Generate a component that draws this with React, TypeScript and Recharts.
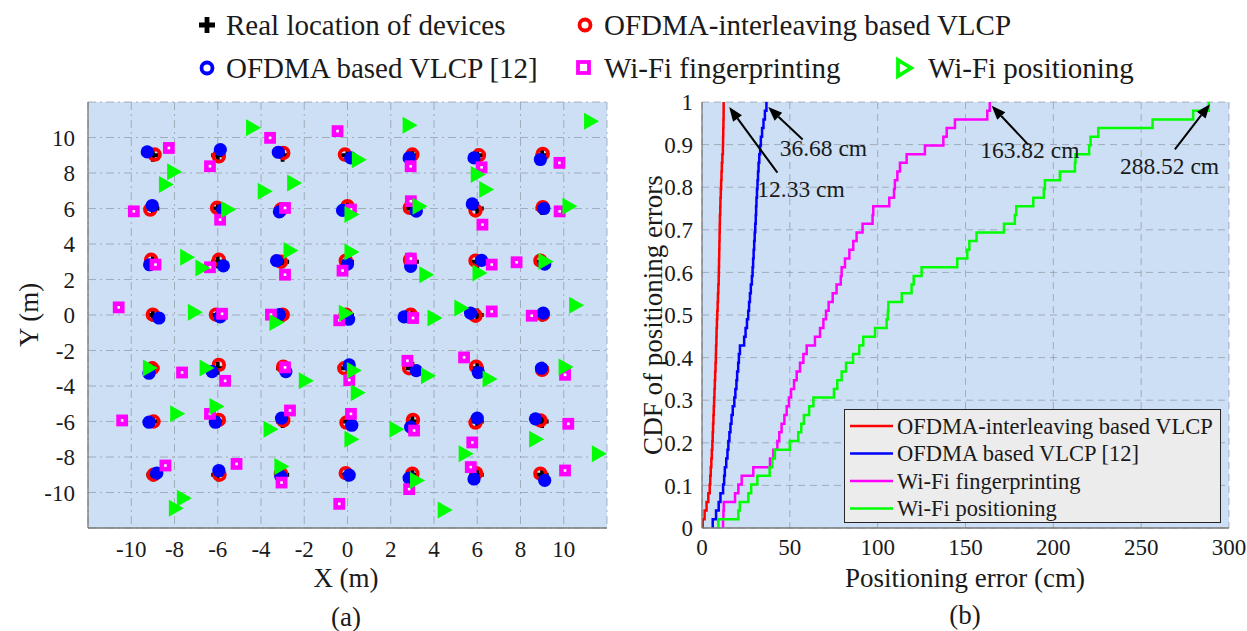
import React from 'react';
import {
  ScatterChart, Scatter, XAxis, YAxis, CartesianGrid,
  LineChart, Line, Legend, ReferenceLine,
} from 'recharts';

const SERIF = '"Liberation Serif", "Times New Roman", serif';

// ---------------- Panel (a): positions (m) ----------------
const deviceXs = [-9, -6, -3, 0, 3, 6, 9];
const deviceYs = [9, 6, 3, 0, -3, -6, -9];

const interleavingEst = [
  [-8.92, 9.04], [-5.95, 8.94], [-2.97, 9.13], [-0.12, 9.04], [3.0, 9.04], [6.08, 9.0], [9.03, 9.08],
  [-9.12, 5.94], [-6.03, 6.04], [-3.08, 5.94], [0.0, 6.13], [2.88, 6.04], [5.92, 5.89], [9.03, 6.08],
  [-9.08, 3.11], [-5.95, 3.11], [-3.08, 3.0], [-0.08, 3.06], [2.89, 3.11], [5.92, 3.06], [8.92, 3.06],
  [-9.0, 0.02], [-6.08, 0.02], [-3.0, 0.02], [-0.08, 0.02], [2.92, 0.02], [5.92, -0.04], [9.03, 0.02],
  [-9.03, -3.0], [-5.95, -2.81], [-2.97, -2.91], [-0.15, -3.0], [2.85, -3.0], [5.95, -2.91], [9.0, -3.09],
  [-8.97, -6.0], [-5.95, -5.91], [-2.97, -5.94], [-0.05, -6.06], [3.03, -5.91], [5.92, -6.06], [8.92, -5.94],
  [-8.97, -9.0], [-5.92, -9.0], [-3.08, -8.94], [-0.08, -8.91], [3.0, -8.94], [5.95, -8.91], [8.92, -8.94],
];

const ofdmaEst = [
  [-9.26, 9.19], [-5.88, 9.32], [-3.2, 9.17], [0.15, 8.85], [2.85, 8.85], [5.85, 8.85], [8.92, 8.76],
  [-9.03, 6.17], [-5.77, 5.94], [-3.15, 5.81], [-0.23, 5.89], [3.18, 5.85], [5.77, 6.26], [9.08, 6.0],
  [-9.15, 2.83], [-5.74, 2.77], [-3.28, 3.06], [0.0, 2.87], [2.92, 2.74], [6.2, 3.08], [9.12, 2.87],
  [-8.72, -0.17], [-5.89, -0.11], [-3.15, 0.02], [0.05, -0.24], [2.62, -0.11], [5.69, 0.11], [9.05, 0.11],
  [-9.18, -3.28], [-6.26, -3.19], [-2.85, -3.19], [0.08, -2.81], [3.18, -3.13], [6.05, -3.24], [8.97, -3.0],
  [-9.18, -6.04], [-6.11, -6.04], [-3.05, -5.81], [0.2, -6.21], [2.92, -6.32], [6.0, -5.81], [8.69, -5.85],
  [-8.82, -8.91], [-5.95, -8.76], [-3.08, -9.09], [0.08, -9.02], [2.85, -9.19], [5.85, -9.24], [9.12, -9.32],
];

const fingerprintEst = [
  [-8.26, 9.41], [-6.36, 8.38], [-3.58, 9.98], [-0.46, 10.36], [2.92, 8.38], [6.2, 8.32], [9.8, 8.57],
  [-9.88, 5.84], [-5.89, 5.37], [-2.89, 6.03], [0.16, 5.94], [2.93, 6.41], [6.24, 5.09], [9.81, 5.84],
  [-8.88, 2.84], [-6.36, 2.69], [-2.89, 2.27], [-0.23, 2.5], [2.93, 3.18], [6.67, 2.84], [7.82, 2.97],
  [-10.58, 0.43], [-5.8, 0.07], [-3.54, 0.02], [-0.38, -0.3], [3.03, -0.17], [6.67, 0.2], [8.52, -0.04],
  [-7.65, -3.24], [-5.66, -3.71], [-2.89, -2.95], [0.08, -3.67], [2.77, -2.58], [5.39, -2.39], [10.06, -3.37],
  [-10.42, -5.94], [-6.36, -5.57], [-2.66, -5.38], [0.16, -5.57], [3.08, -6.51], [5.77, -7.18], [10.21, -6.13],
  [-8.42, -8.48], [-5.13, -8.39], [-3.05, -9.44], [-0.38, -10.64], [2.85, -9.81], [5.7, -8.57], [10.06, -8.76],
];

const wifiEst = [
  [-4.39, 10.55], [-8.04, 8.07], [-8.42, 7.35], [-3.85, 6.97], [-2.49, 7.44], [-5.54, 5.94], [-2.66, 3.63],
  [-7.44, 3.25], [-6.73, 2.65], [0.5, 8.75], [0.16, 5.66], [0.16, 3.55], [-7.08, 0.15], [2.85, 10.69],
  [11.24, 10.92], [6.0, 7.91], [6.39, 7.07], [3.31, 6.13], [10.24, 6.13], [3.62, 2.27], [6.08, 2.37],
  [9.13, 3.02], [5.24, 0.39], [10.55, 0.55], [-3.31, -0.42], [-0.1, 0.1], [4.0, -0.17], [-9.16, -2.99],
  [-6.54, -2.99], [-1.95, -3.71], [0.27, -3.13], [0.45, -4.38], [3.7, -3.42], [6.55, -3.61], [10.06, -2.93],
  [-7.9, -5.57], [-6.08, -5.15], [-3.58, -6.43], [0.16, -7.0], [2.24, -6.43], [5.44, -7.82], [8.7, -7.0],
  [11.6, -7.82], [-7.59, -10.32], [-7.96, -10.89], [-3.08, -8.54], [3.19, -9.33], [4.47, -10.98],
];

const posTicks = [-10, -8, -6, -4, -2, 0, 2, 4, 6, 8, 10];

// ---------------- Panel (b): sorted positioning errors (cm) ----------------
const interleavingErr = [
  0.4, 1.5, 2.6, 3.6, 4.4, 4.7, 5.0, 5.3, 5.6, 5.9, 6.1, 6.3, 6.5, 6.7, 6.9, 7.1, 7.3, 7.5, 7.7, 7.9,
  8.0, 8.2, 8.3, 8.5, 8.7, 8.9, 9.1, 9.3, 9.5, 9.6, 9.7, 9.8, 9.9, 10.0, 10.1, 10.2, 10.4, 10.5, 10.7,
  10.9, 11.1, 11.3, 11.6, 11.9, 12.0, 12.1, 12.2, 12.3, 12.33,
];
const ofdmaErr = [
  6.1, 8.0, 9.5, 10.5, 12.0, 12.6, 13.0, 13.8, 14.5, 15.0, 15.6, 16.2, 16.8, 17.5, 18.4, 19.0, 19.6,
  20.0, 20.6, 21.0, 21.6, 24.0, 24.8, 25.6, 26.3, 26.8, 27.3, 27.8, 28.4, 28.8, 29.1, 29.4, 29.7, 30.0,
  30.3, 30.6, 30.8, 31.0, 31.3, 31.6, 31.9, 32.2, 32.6, 33.1, 33.5, 34.2, 35.0, 35.8, 36.68,
];
const fingerprintErr = [
  12.0, 12.2, 12.4, 18.8, 20.7, 22.6, 29.2, 38.7, 40.6, 42.9, 44.0, 45.3, 46.9, 48.2, 49.5, 50.7, 52.4,
  53.9, 55.8, 57.7, 59.6, 64.3, 67.2, 69.1, 70.6, 72.1, 74.4, 76.6, 79.0, 79.5, 81.4, 83.9, 86.1, 88.0,
  91.4, 97.1, 97.5, 106.6, 109.3, 109.8, 111.2, 112.7, 116.5, 126.9, 137.4, 139.3, 144.0, 162.4, 163.82,
];
const wifiErr = [
  9.3, 20.7, 21.5, 26.4, 28.0, 31.5, 38.5, 40.0, 41.5, 50.0, 54.8, 56.5, 58.0, 61.0, 63.4, 75.1, 77.0,
  79.5, 82.0, 86.0, 89.5, 91.8, 98.5, 105.1, 105.8, 106.1, 113.7, 119.3, 120.5, 125.0, 145.3, 151.0,
  152.2, 156.3, 171.9, 178.1, 178.9, 188.6, 194.6, 195.2, 203.7, 212.3, 212.6, 220.4, 221.2, 225.6,
  256.5, 279.6, 288.52,
];
const errTicks = [0, 50, 100, 150, 200, 250, 300];
const cdfTicks = [0, 0.1, 0.2, 0.3, 0.4, 0.5, 0.6, 0.7, 0.8, 0.9, 1];

const seriesNames = [
  'OFDMA-interleaving based VLCP',
  'OFDMA based VLCP [12]',
  'Wi-Fi fingerprinting',
  'Wi-Fi positioning',
];
const seriesColors = ['#ff0000', '#0000ff', '#ff00ff', '#00ff00'];

const annotations = [
  { text: '12.33 cm', tail: [42.9, 0.834], tip: [15.5, 0.988], dx: -20, dy: 24 },
  { text: '36.68 cm', tail: [57.3, 0.912], tip: [37.7, 0.988], dx: -23, dy: 17 },
  { text: '163.82 cm', tail: [185.7, 0.9], tip: [164.9, 0.991], dx: -48, dy: 13 },
  { text: '288.52 cm', tail: [269.2, 0.889], tip: [289.1, 0.995], dx: -55, dy: 25 },
];

// ---------------- helpers ----------------
const toPoints = (arr: number[][]) => arr.map(([x, y]) => ({ x, y }));
const devicePoints = deviceYs.flatMap((y) => deviceXs.map((x) => ({ x, y })));
const cdfPoints = (errs: number[]) => [
  { x: errs[0], y: 0 },
  ...errs.map((e, i) => ({ x: e, y: (i + 1) / errs.length })),
];

const BG = '#cddff4';
const GRID = '#8d97a3';
const BOX = '#7a7a7a';
const TXT = '#1a1a1a';

const PlusShape = (p: any) => (
  <path d={`M${p.cx - 6.5},${p.cy}H${p.cx + 6.5}M${p.cx},${p.cy - 6.5}V${p.cy + 6.5}`} stroke="#000" strokeWidth={3.8} />
);
const RedShape = (p: any) => (
  <circle cx={p.cx} cy={p.cy} r={5.3} fill="none" stroke="#ff0000" strokeWidth={3.8} />
);
const BlueShape = (p: any) => <circle cx={p.cx} cy={p.cy} r={6.6} fill="#0000ff" />;
const PinkShape = (p: any) => (
  <rect x={p.cx - 3.6} y={p.cy - 3.6} width={7.2} height={7.2} fill="#ffffff" stroke="#ff00ff" strokeWidth={4.6} />
);
const GreenShape = (p: any) => (
  <polygon points={`${p.cx - 6.5},${p.cy - 8.5} ${p.cx + 8.5},${p.cy} ${p.cx - 6.5},${p.cy + 8.5}`} fill="#00ff00" />
);

const ArrowShape = (p: any) => {
  const { x1, y1, x2, y2, text, dx, dy } = p;
  const ang = Math.atan2(y2 - y1, x2 - x1);
  const L = 14;
  const W = 5.5;
  const bx = x2 - L * Math.cos(ang);
  const by = y2 - L * Math.sin(ang);
  const px = -Math.sin(ang) * W;
  const py = Math.cos(ang) * W;
  return (
    <g>
      <line x1={x1} y1={y1} x2={bx} y2={by} stroke="#000" strokeWidth={2} />
      <polygon points={`${x2},${y2} ${bx + px},${by + py} ${bx - px},${by - py}`} fill="#000" />
      <text x={x1 + dx} y={y1 + dy} fontFamily={SERIF} fontSize={23.5} fill={TXT}>{text}</text>
    </g>
  );
};

const CdfLegend = () => (
  <svg width={377} height={114} style={{ display: 'block' }}>
    <rect x={0.5} y={0.5} width={376} height={113} fill="#ececec" stroke="#262626" strokeWidth={1} />
    {seriesNames.map((n, i) => {
      const cy = 17 + i * 27.5;
      return (
        <g key={n}>
          <line x1={6} x2={49} y1={cy} y2={cy} stroke={seriesColors[i]} strokeWidth={2.5} />
          <text x={53} y={cy + 7.5} fontFamily={SERIF} fontSize={22.5} fill={TXT}>{n}</text>
        </g>
      );
    })}
  </svg>
);

const tickStyle = { fill: TXT, fontSize: 23, fontFamily: SERIF };
const boxLine = { stroke: BOX, strokeWidth: 1.3 };

export default function App() {
  return (
    <div style={{ position: 'absolute', left: 0, top: 0, width: 1247, height: 631, background: '#fff', overflow: 'hidden' }}>
      {/* Panel (a) */}
      <div style={{ position: 'absolute', left: 0, top: 0 }}>
        <ScatterChart width={620} height={631} margin={{ top: 102, right: 13, bottom: 53, left: 0 }}>
          <CartesianGrid fill={BG} stroke={GRID} strokeOpacity={0.7} strokeDasharray="8 4 2 4" />
          <XAxis type="number" dataKey="x" domain={[-12, 12]} ticks={posTicks} interval={0} allowDataOverflow
            height={50} tickLine={false} tickMargin={7} axisLine={boxLine} tick={tickStyle} />
          <YAxis type="number" dataKey="y" domain={[-12, 12]} ticks={posTicks} interval={0} allowDataOverflow
            width={88} tickLine={false} tickMargin={7} axisLine={boxLine} tick={tickStyle} />
          <XAxis xAxisId="top" orientation="top" type="number" domain={[-12, 12]} ticks={posTicks} interval={0}
            allowDataOverflow height={0} mirror tick={false} tickSize={5} axisLine={boxLine} tickLine={boxLine} />
          <YAxis yAxisId="right" orientation="right" type="number" domain={[-12, 12]} ticks={posTicks} interval={0}
            allowDataOverflow width={0} mirror tick={false} tickSize={5} axisLine={boxLine} tickLine={boxLine} />
          <Scatter data={devicePoints} shape={PlusShape} isAnimationActive={false} />
          <Scatter data={toPoints(interleavingEst)} shape={RedShape} isAnimationActive={false} />
          <Scatter data={toPoints(ofdmaEst)} shape={BlueShape} isAnimationActive={false} />
          <Scatter data={toPoints(fingerprintEst)} shape={PinkShape} isAnimationActive={false} />
          <Scatter data={toPoints(wifiEst)} shape={GreenShape} isAnimationActive={false} />
        </ScatterChart>
      </div>

      {/* Panel (b) */}
      <div style={{ position: 'absolute', left: 620, top: 0 }}>
        <LineChart width={627} height={631} margin={{ top: 102, right: 18, bottom: 53, left: 0 }}>
          <CartesianGrid fill={BG} stroke={GRID} strokeOpacity={0.7} strokeDasharray="7 5" />
          <XAxis type="number" dataKey="x" domain={[0, 300]} ticks={errTicks} interval={0} allowDataOverflow
            height={50} tickLine={false} tickMargin={5} axisLine={boxLine} tick={tickStyle} />
          <YAxis type="number" dataKey="y" domain={[0, 1]} ticks={cdfTicks} interval={0} allowDataOverflow
            width={82} tickLine={false} tickMargin={3} axisLine={boxLine} tick={tickStyle} />
          <XAxis xAxisId="top" orientation="top" type="number" domain={[0, 300]} ticks={errTicks} interval={0}
            allowDataOverflow height={0} mirror tick={false} tickSize={5} axisLine={boxLine} tickLine={boxLine} />
          <YAxis yAxisId="right" orientation="right" type="number" domain={[0, 1]} ticks={cdfTicks} interval={0}
            allowDataOverflow width={0} mirror tick={false} tickSize={5} axisLine={boxLine} tickLine={boxLine} />
          <Line data={cdfPoints(interleavingErr)} dataKey="y" name={seriesNames[0]} type="stepAfter" stroke={seriesColors[0]} strokeWidth={2.5} dot={false} isAnimationActive={false} />
          <Line data={cdfPoints(ofdmaErr)} dataKey="y" name={seriesNames[1]} type="stepAfter" stroke={seriesColors[1]} strokeWidth={2.5} dot={false} isAnimationActive={false} />
          <Line data={cdfPoints(fingerprintErr)} dataKey="y" name={seriesNames[2]} type="stepAfter" stroke={seriesColors[2]} strokeWidth={2.5} dot={false} isAnimationActive={false} />
          <Line data={cdfPoints(wifiErr)} dataKey="y" name={seriesNames[3]} type="stepAfter" stroke={seriesColors[3]} strokeWidth={2.5} dot={false} isAnimationActive={false} />
          {annotations.map((a) => (
            <ReferenceLine key={a.text} ifOverflow="visible"
              segment={[{ x: a.tail[0], y: a.tail[1] }, { x: a.tip[0], y: a.tip[1] }]}
              shape={(p: any) => <ArrowShape {...p} text={a.text} dx={a.dx} dy={a.dy} />} />
          ))}
          <Legend layout="vertical" align="center" verticalAlign="middle"
            wrapperStyle={{ left: 224, top: 409, width: 377, height: 114, margin: 0, padding: 0 }}
            content={() => <CdfLegend />} />
        </LineChart>
      </div>

      {/* Shared legend, axis titles and panel captions */}
      <svg width={1247} height={631} style={{ position: 'absolute', left: 0, top: 0, pointerEvents: 'none' }}>
        <g fontFamily={SERIF} fontSize={29} fill={TXT}>
          <path d="M199,25H215M207,17V33" stroke="#000" strokeWidth={4.8} />
          <text x={226} y={35}>Real location of devices</text>
          <circle cx={585} cy={25} r={5.5} fill="none" stroke="#ff0000" strokeWidth={3.8} />
          <text x={604} y={35}>{seriesNames[0]}</text>
          <circle cx={207} cy={68} r={5.5} fill="none" stroke="#0000ff" strokeWidth={3.8} />
          <text x={226} y={78}>{seriesNames[1]}</text>
          <rect x={578} y={62} width={11} height={11} fill="none" stroke="#ff00ff" strokeWidth={3.8} />
          <text x={604} y={78}>{seriesNames[2]}</text>
          <polygon points="898,60 911,68 898,76" fill="none" stroke="#00ff00" strokeWidth={3.8} strokeLinejoin="miter" />
          <text x={928} y={78}>{seriesNames[3]}</text>
        </g>
        <g fontFamily={SERIF} fontSize={27} fill={TXT} textAnchor="middle">
          <text x={29} y={315} dominantBaseline="central" transform="rotate(-90 29 315)">Y (m)</text>
          <text x={346} y={587}>X (m)</text>
          <text x={346} y={626}>(a)</text>
          <text x={653} y={315} dominantBaseline="central" transform="rotate(-90 653 315)">CDF of positioning errors</text>
          <text x={965} y={587}>Positioning error (cm)</text>
          <text x={965} y={624}>(b)</text>
        </g>
      </svg>
    </div>
  );
}
